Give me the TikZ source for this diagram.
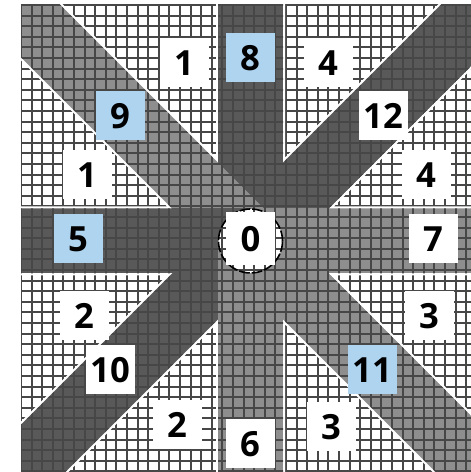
\documentclass[tikz,border=0pt]{standalone}
\usepackage{fontspec}
\setmainfont{Open Sans}
\definecolor{bandDark}{HTML}{595959}
\definecolor{bandLight}{HTML}{8E8E8E}
\definecolor{gridLine}{HTML}{474747}
\definecolor{cellBlue}{HTML}{AED4F0}

% one band: from the centre outwards, 65 wide
\newcommand{\bandshape}[1]{(ctr) ++(#1+90:32.5) -- ++(#1:420) -- ++(#1-90:65) -- ++(#1+180:420) -- cycle}
\newcommand{\allbands}{\bandshape{90} \bandshape{45} \bandshape{135} \bandshape{0}
  \bandshape{180} \bandshape{225} \bandshape{270} \bandshape{315}}
\newcommand{\fillbands}{%
  \foreach \ang/\col in {90/bandDark, 45/bandDark, 135/bandLight, 0/bandLight,
    180/bandDark, 225/bandDark, 270/bandLight, 315/bandLight}{
    \fill[\col] \bandshape{\ang};
  }}
\newcommand{\drawgrid}{%
  \foreach \k in {0,...,42}{
    \draw[gridline] (21+\k*10.6,0) -- (21+\k*10.6,467);
  }
  \foreach \k in {0,...,44}{
    \draw[gridline] (21,467-\k*10.6) -- (471,467-\k*10.6);
  }}

\begin{document}
\begin{tikzpicture}[
  x=0.75pt, y=0.75pt,
  numbox/.style={fill=white, minimum width=36.75pt, minimum height=36.75pt,
    inner sep=0pt, font=\bfseries\fontsize{26}{26}\selectfont},
  bluebox/.style={numbox, fill=cellBlue},
  gridline/.style={line width=1.5pt, gridLine},
  bandedge/.style={draw=white, line width=3pt}
]
  \useasboundingbox (0,0) rectangle (471,472);
  \coordinate (ctr) at (250.5,231);

  % Bands and grid
  \begin{scope}
    \clip (21,0) rectangle (471,467);
    \fillbands
    \drawgrid
    \draw[bandedge] \allbands;
    % put the inside of the bands back
    \begin{scope}
      \clip \allbands;
      \fillbands
      \drawgrid
    \end{scope}
  \end{scope}

  % Centre circle
  \fill[white] (ctr) circle (32);
  \begin{scope}
    \clip (ctr) circle (32);
    \drawgrid
  \end{scope}
  \draw[black, line width=1.2pt, dash pattern=on 8pt off 1.5pt] (ctr) circle (32);

  % Top row
  \node[numbox]  (b1n) at (184,409) {1};
  \node[bluebox] (b8)  at (250,414) {8};
  \node[numbox]  (b4n) at (328,409) {4};
  \node[bluebox] (b9)  at (120,356) {9};
  \node[numbox]  (b12) at (383,356) {12};
  \node[numbox]  (b1w) at (87,297) {1};
  \node[numbox]  (b4e) at (426,297) {4};

  % Middle row
  \node[bluebox] (b5) at (78,233) {5};
  \node[numbox, minimum height=39.75pt] (b0) at (250.5,233) {0};
  \node[numbox]  (b7) at (433,233) {7};

  % Bottom rows
  \node[numbox]  (b2w) at (84,156) {2};
  \node[numbox]  (b3e) at (429,156) {3};
  \node[numbox]  (b10) at (110,102) {10};
  \node[bluebox] (b11) at (372,102) {11};
  \node[numbox]  (b2s) at (177,47) {2};
  \node[numbox]  (b6)  at (250,28) {6};
  \node[numbox]  (b3s) at (331,45) {3};
\end{tikzpicture}
\end{document}
